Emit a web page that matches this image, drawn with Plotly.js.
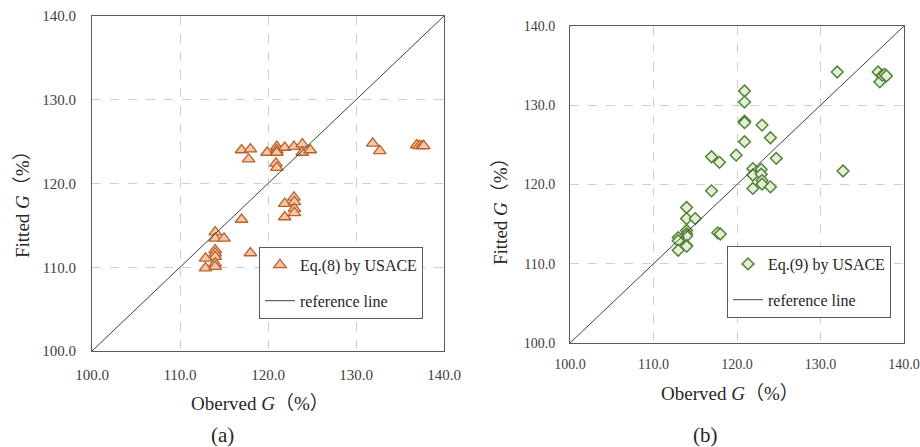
<!DOCTYPE html>
<html>
<head>
<meta charset="utf-8">
<script src="https://cdn.plot.ly/plotly-3.0.1.min.js"></script>
<style>html,body{margin:0;padding:0;background:#fff;}#chart{width:920px;height:447px;}</style>
</head>
<body>
<div id="chart"></div>
<script>
// Panel (a): Eq.(8) by USACE
const obsA = [117.0,118.0,117.8,119.9,121.0,121.0,121.0,121.9,122.95,123.9,123.9,124.8,120.9,121.0,
              131.9,132.7,136.9,137.2,137.5,137.7,
              117.0,118.0,121.9,121.9,122.95,123.0,123.0,123.0,
              114.0,114.0,115.0,114.0,114.0,114.0,112.9,112.9,114.0,114.0];
const fitA = [124.0,124.1,122.9,123.7,124.4,124.0,123.7,124.3,124.4,124.7,123.7,124.0,122.4,121.9,
              124.8,123.9,124.6,124.5,124.5,124.5,
              115.7,111.7,117.6,116.0,118.35,117.8,117.0,116.5,
              114.2,113.45,113.45,112.06,111.66,111.26,111.07,109.9,110.47,110.07];
// Panel (b): Eq.(9) by USACE
const obsB = [132.0,136.9,137.1,137.4,137.7,137.9,
              120.9,120.9,120.9,120.9,123.0,124.0,120.9,119.9,116.95,117.9,124.7,132.7,
              121.9,121.9,122.9,122.9,123.0,123.0,121.9,124.0,116.95,
              113.96,113.96,115.0,113.96,113.96,113.96,113.96,113.96,112.96,112.96,112.96,117.7,118.0];
const fitB = [134.2,134.2,132.95,133.8,133.9,133.7,
              131.8,130.4,128.0,127.8,127.5,125.9,125.4,123.7,123.5,122.8,123.3,121.7,
              122.0,121.2,121.9,121.3,120.5,120.05,119.5,119.7,119.2,
              117.1,115.7,115.7,114.2,113.8,113.5,112.3,112.2,113.3,112.9,111.7,113.9,113.75];
// reference line y = x
const refX = [100, 140];
const refY = [100, 140];
const tickVals = [100, 110, 120, 130, 140];

const serifOnly = "Liberation Serif";
const serif = "Liberation Serif, Noto Sans CJK SC, serif";
const txt = '#262626';

const traces = [
  {x: obsA, y: fitA, type: 'scatter', mode: 'markers', name: 'Eq.(8) by USACE',
   xaxis: 'x', yaxis: 'y', legend: 'legend', legendgroup: 'a1',
   marker: {symbol: 'triangle-up', size: 11, color: '#F6C7A2', line: {color: '#B8612F', width: 1.3}}},
  {x: refX, y: refY, type: 'scatter', mode: 'lines', name: 'reference line',
   xaxis: 'x', yaxis: 'y', legend: 'legend', legendgroup: 'a2',
   line: {color: '#404040', width: 1}},
  {x: obsB, y: fitB, type: 'scatter', mode: 'markers', name: 'Eq.(9) by USACE',
   xaxis: 'x2', yaxis: 'y2', legend: 'legend2', legendgroup: 'b1',
   marker: {symbol: 'diamond', size: 9, color: '#E2F0D9', line: {color: '#548235', width: 1.5}}},
  {x: refX, y: refY, type: 'scatter', mode: 'lines', name: 'reference line',
   xaxis: 'x2', yaxis: 'y2', legend: 'legend2', legendgroup: 'b2',
   line: {color: '#404040', width: 1}}
];

function ax(domain, anchor, standoff, fs) {
  return {domain: domain, anchor: anchor, range: [100, 140], tickvals: tickVals, tickformat: '.1f',
    showgrid: true, gridcolor: '#cfcfcf', griddash: 'dash', gridwidth: 1, zeroline: false,
    showline: true, mirror: true, linecolor: '#595959', linewidth: 1, ticks: '',
    ticklabelstandoff: standoff, ticklabeloverflow: 'allow',
    tickfont: {family: serifOnly, size: fs, color: '#404040'}};
}

function legendAt(x, y) {
  return {x: x, y: y, xanchor: 'left', yanchor: 'top', bgcolor: '#ffffff', bordercolor: '#595959', borderwidth: 1,
    font: {family: serifOnly, size: 16, color: txt}, tracegroupgap: 12, traceorder: 'grouped'};
}

const layout = {
  width: 920, height: 447, margin: {l: 0, r: 0, t: 0, b: 0},
  font: {family: serifOnly, color: txt},
  paper_bgcolor: '#ffffff', plot_bgcolor: '#ffffff',
  xaxis: ax([92/920, 444/920], 'y', 10, 15),
  yaxis: ax([1 - 351/447, 1 - 16/447], 'x', 12, 15),
  xaxis2: ax([570/920, 904/920], 'y2', 8, 14),
  yaxis2: ax([1 - 343/447, 1 - 26/447], 'x2', 11, 14),
  legend: legendAt(259/920, 1 - 247/447),
  legend2: legendAt(727/920, 1 - 246/447),
  annotations: [
    {text: 'Oberved <i>G</i>（%）', xref: 'paper', yref: 'paper', x: 260/920, y: 1 - 403/447,
     xanchor: 'center', yanchor: 'middle', showarrow: false, font: {family: serif, size: 19, color: txt}},
    {text: 'Oberved <i>G</i>（%）', xref: 'paper', yref: 'paper', x: 730/920, y: 1 - 393/447,
     xanchor: 'center', yanchor: 'middle', showarrow: false, font: {family: serif, size: 19, color: txt}},
    {text: 'Fitted <i>G</i>（%）', xref: 'paper', yref: 'paper', x: 22/920, y: 1 - 200/447, textangle: -90,
     xanchor: 'center', yanchor: 'middle', showarrow: false, font: {family: serif, size: 19, color: txt}},
    {text: 'Fitted <i>G</i>（%）', xref: 'paper', yref: 'paper', x: 500/920, y: 1 - 207/447, textangle: -90,
     xanchor: 'center', yanchor: 'middle', showarrow: false, font: {family: serif, size: 19, color: txt}},
    {text: '(a)', xref: 'paper', yref: 'paper', x: 222/920, y: 1 - 435/447,
     xanchor: 'center', yanchor: 'middle', showarrow: false, font: {family: serif, size: 21, color: txt}},
    {text: '(b)', xref: 'paper', yref: 'paper', x: 705/920, y: 1 - 435/447,
     xanchor: 'center', yanchor: 'middle', showarrow: false, font: {family: serif, size: 21, color: txt}}
  ]
};

Plotly.newPlot('chart', traces, layout, {displayModeBar: false, staticPlot: true});
</script>
</body>
</html>
